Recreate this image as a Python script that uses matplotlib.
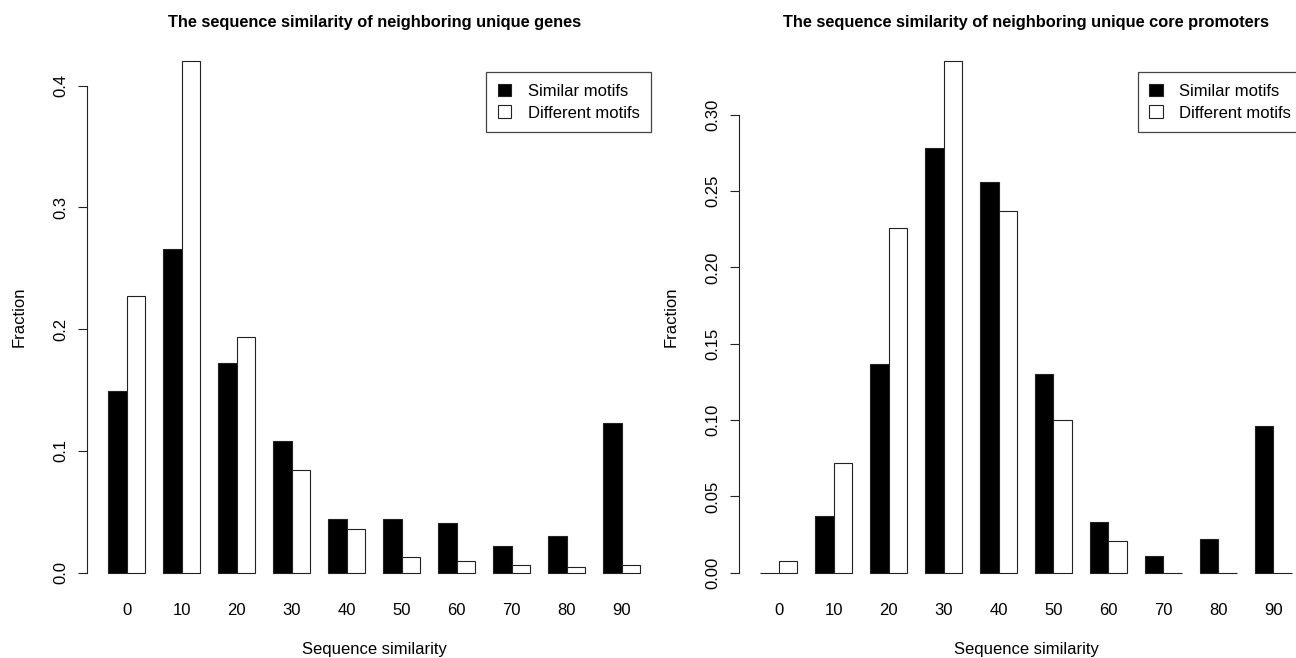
import numpy as np
import matplotlib
matplotlib.use('Agg')
import matplotlib.pyplot as plt
from matplotlib.patches import Patch

categories = ['0', '10', '20', '30', '40', '50', '60', '70', '80', '90']

genes_similar = [0.149, 0.266, 0.172, 0.108, 0.044, 0.044, 0.041, 0.022, 0.030, 0.123]
genes_different = [0.227, 0.420, 0.194, 0.084, 0.036, 0.013, 0.010, 0.006, 0.005, 0.006]

prom_similar = [0.000, 0.037, 0.137, 0.278, 0.256, 0.130, 0.033, 0.011, 0.022, 0.096]
prom_different = [0.008, 0.072, 0.226, 0.335, 0.237, 0.100, 0.021, 0.000, 0.000, 0.000]

plt.rcParams['font.family'] = ['Liberation Sans', 'DejaVu Sans']

W, H = 1296, 658
fig = plt.figure(figsize=(W / 100, H / 100), dpi=100)


def draw_panel(ax, sim, diff, yticks, fmt, title):
    n = len(categories)
    # R barplot(beside=TRUE) layout: width 1, space 1 between groups
    left_sim = 1 + 3 * np.arange(n)
    ax.bar(left_sim, sim, width=1, align='edge', color='black',
           edgecolor='#222222', linewidth=0.8)
    ax.bar(left_sim + 1, diff, width=1, align='edge', color='white',
           edgecolor='#222222', linewidth=0.8)
    ymax = max(max(sim), max(diff))
    ax.set_xlim(1 - 0.04 * 29, 30 + 0.04 * 29)
    ax.set_ylim(-0.04 * ymax, ymax * 1.04)

    ax.set_xticks(left_sim + 1)
    ax.set_xticklabels(categories)
    ax.tick_params(axis='x', length=0, pad=7, labelsize=12)
    ax.set_yticks(yticks)
    ax.set_yticklabels([fmt % v for v in yticks], rotation=90, va='center')
    ax.tick_params(axis='y', length=6.5, width=0.8, pad=7, labelsize=12,
                   color='#222222')
    for s in ['top', 'right', 'bottom']:
        ax.spines[s].set_visible(False)
    ax.spines['left'].set_bounds(yticks[0], yticks[-1])
    ax.spines['left'].set_linewidth(0.8)
    ax.spines['left'].set_color('#222222')

    ax.set_xlabel('Sequence similarity', fontsize=12, labelpad=17)
    ax.set_ylabel('Fraction', fontsize=12, labelpad=19)
    ax.set_title(title, fontsize=11.8, fontweight='bold', pad=10)

    handles = [Patch(facecolor='black', edgecolor='#222222', linewidth=0.8),
               Patch(facecolor='white', edgecolor='#222222', linewidth=0.8)]
    leg = ax.legend(handles, ['Similar motifs', 'Different motifs'],
                    loc='upper right', bbox_to_anchor=(0.9826, 0.9437),
                    borderaxespad=0, fontsize=12, fancybox=False,
                    framealpha=1, edgecolor='#444444', handlelength=0.8,
                    handleheight=0.8, handletextpad=1.0, borderpad=0.7,
                    labelspacing=0.4)
    leg.get_frame().set_linewidth(0.9)


ax1 = fig.add_axes([87.1 / W, 64.8 / H, 574 / W, 552.3 / H])
draw_panel(ax1, genes_similar, genes_different,
           [0.0, 0.1, 0.2, 0.3, 0.4], '%.1f',
           'The sequence similarity of neighboring unique genes')

ax2 = fig.add_axes([739.0 / W, 64.8 / H, 574 / W, 552.3 / H])
draw_panel(ax2, prom_similar, prom_different,
           [0.0, 0.05, 0.10, 0.15, 0.20, 0.25, 0.30], '%.2f',
           'The sequence similarity of neighboring unique core promoters')

fig.savefig('out.png', dpi=100)
